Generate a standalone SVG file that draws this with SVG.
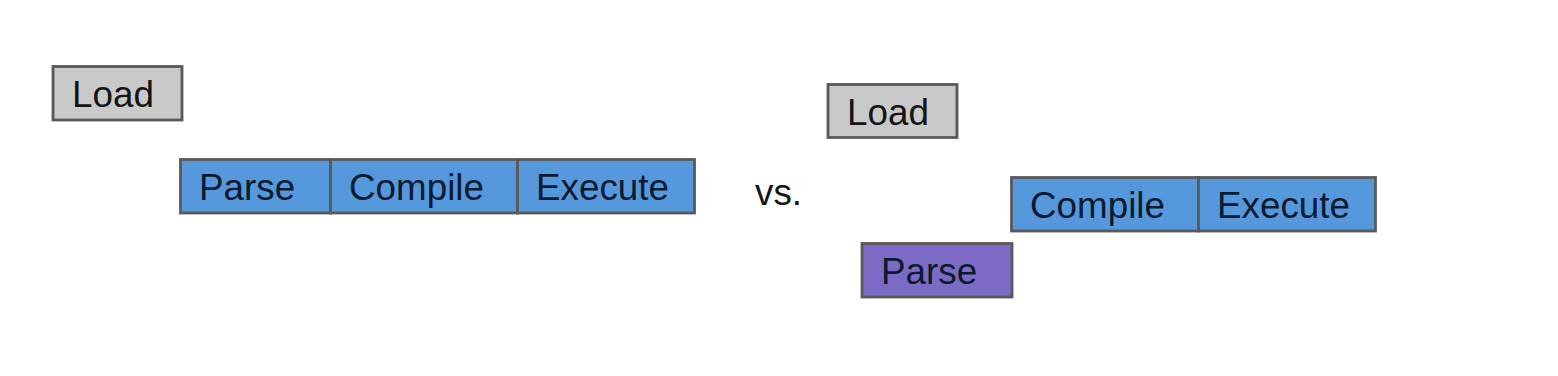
<svg xmlns="http://www.w3.org/2000/svg" width="1558" height="376" viewBox="0 0 1558 376">
<style>
  .box { stroke: #595959; stroke-width: 2.8; }
  .gray { fill: #c9c9c9; }
  .blue { fill: #5698dc; }
  .purple { fill: #7b6bc4; }
  text { font-family: "Liberation Sans", Arial, sans-serif; font-size: 36.8px; fill: #141414; }
  .dk { fill: #0b1a30; }
</style>
<rect width="1558" height="376" fill="#ffffff"/>
<g id="load1">
  <rect class="box gray" x="53" y="66.5" width="129" height="53.5"/>
  <text x="72" y="107">Load</text>
</g>
<g id="parse1">
  <rect class="box blue" x="180.5" y="159.5" width="150" height="53.5"/>
  <text class="dk" x="199" y="200">Parse</text>
</g>
<g id="compile1">
  <rect class="box blue" x="330.5" y="159.5" width="187" height="53.5"/>
  <text class="dk" x="349" y="200">Compile</text>
</g>
<g id="execute1">
  <rect class="box blue" x="517.5" y="159.5" width="177" height="53.5"/>
  <text class="dk" x="536" y="200">Execute</text>
</g>
<g id="vs">
  <text x="755" y="205">vs.</text>
</g>
<g id="load2">
  <rect class="box gray" x="828" y="84.5" width="129" height="53"/>
  <text x="847" y="125">Load</text>
</g>
<g id="compile2">
  <rect class="box blue" x="1011.5" y="177.5" width="187" height="53.5"/>
  <text class="dk" x="1030" y="218">Compile</text>
</g>
<g id="execute2">
  <rect class="box blue" x="1198.5" y="177.5" width="177" height="53.5"/>
  <text class="dk" x="1217" y="218">Execute</text>
</g>
<g id="parse2">
  <rect class="box purple" x="862" y="243.5" width="150" height="53.5"/>
  <text class="dk" x="881" y="284">Parse</text>
</g>
<g id="connectors"></g>
</svg>
